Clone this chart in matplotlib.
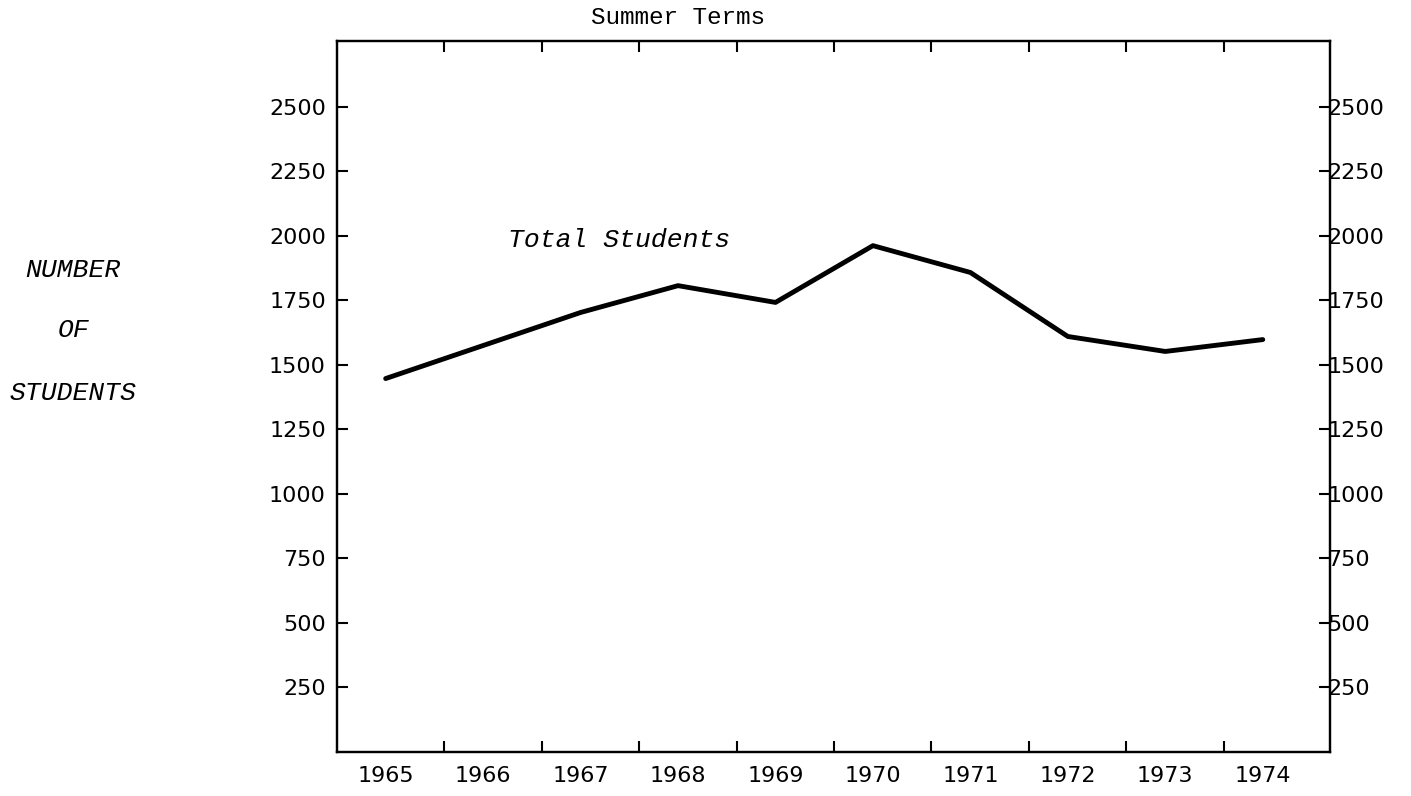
import matplotlib
import matplotlib.pyplot as plt
import numpy as np

matplotlib.use('Agg')

# values
years = [1965, 1966, 1967, 1968, 1969, 1970, 1971, 1972, 1973, 1974]
total_students = [1447, 1575, 1703, 1807, 1742, 1962, 1858, 1610, 1552, 1598]
y_ticks = [250, 500, 750, 1000, 1250, 1500, 1750, 2000, 2250, 2500]

MONO = 'Liberation Mono'


def plot_summer_terms():
    fig = plt.figure(figsize=(14.11, 7.96), dpi=100)
    ax = fig.add_axes([0.2388, 0.0553, 0.7038, 0.8932])

    ax.plot(years, total_students, color='black', linewidth=3.5, solid_capstyle='round')

    ax.set_xlim(1964.5, 1974.69)
    ax.set_ylim(0, 2755)

    # year labels at the data points, tick marks between them
    ax.set_xticks(years)
    ax.set_xticklabels([str(y) for y in years], fontsize=16)
    ax.tick_params(axis='x', which='major', length=0, pad=10)
    ax.set_xticks([y + 0.6 for y in years[:-1]], minor=True)
    ax.tick_params(axis='x', which='minor', direction='in', length=8, width=1.5,
                   top=True, bottom=True)

    ax.set_yticks(y_ticks)
    ax.set_yticklabels([str(v) for v in y_ticks], fontsize=16)
    ax.tick_params(axis='y', direction='in', length=8, width=1.5, pad=8)

    ax2 = ax.twinx()
    ax2.set_ylim(ax.get_ylim())
    ax2.set_yticks(y_ticks)
    ax2.set_yticklabels([str(v) for v in y_ticks], fontsize=16)
    ax2.tick_params(axis='y', direction='in', length=8, width=1.5, pad=-2)

    for a in (ax, ax2):
        for s in a.spines.values():
            s.set_linewidth(1.6)

    fig.text(0.4805, 0.978, 'Summer Terms', family=MONO, fontsize=17.5,
             ha='center', va='center')
    ax.text(1967.4, 1985, 'Total Students', family=MONO, style='italic',
            fontsize=19, ha='center', va='center')

    for label, ypix in [('NUMBER', 270), ('OF', 330), ('STUDENTS', 393)]:
        fig.text(0.052, 1 - ypix / 796, label, family=MONO, style='italic',
                 fontsize=19, ha='center', va='center')

    fig.savefig('out.png', dpi=100)


if __name__ == "__main__":
    plot_summer_terms()
